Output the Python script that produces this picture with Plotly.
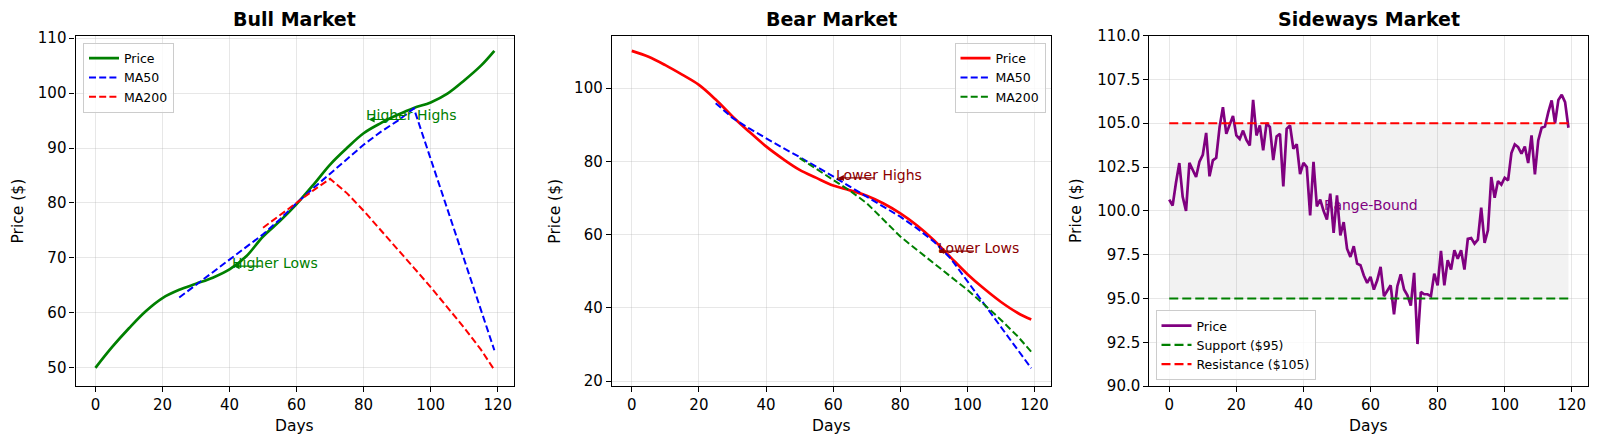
import plotly.graph_objects as go

FONT = "DejaVu Sans"

# ---------------- data ----------------
days_all = list(range(120))

# Bull market (read every 5 days)
bull_days = [0, 5, 10, 15, 20, 25, 30, 35, 40, 45, 50, 55, 60, 65, 70, 75, 80, 85, 90, 95, 100, 105, 110, 115, 119]
bull_price = [50.0, 53.8, 57.2, 60.3, 62.7, 64.2, 65.3, 66.4, 67.9, 70.3, 73.9, 76.7, 79.8, 83.3, 87.0, 90.0,
              92.7, 94.5, 96.0, 97.3, 98.3, 99.9, 102.3, 105.0, 107.7]
bull_ma50_days = [25, 30, 35, 40, 45, 50, 55, 60, 65, 70, 75, 80, 85, 90, 95, 100, 105, 110, 115, 119]
bull_ma50 = [62.8, 65.1, 67.3, 69.6, 71.9, 74.3, 77.0, 80.0, 82.7, 85.3, 88.0, 90.6, 92.9, 94.9, 97.2,
             88.0, 78.9, 69.7, 60.5, 53.2]
bull_ma200_days = [50, 55, 60, 65, 70, 75, 80, 85, 90, 95, 100, 105, 110, 115, 119]
bull_ma200 = [75.5, 77.8, 80.1, 82.3, 84.4, 81.8, 78.6, 75.2, 71.7, 68.2, 64.7, 61.0, 57.3, 53.3, 49.6]

# Bear market
bear_days = [0, 5, 10, 15, 20, 25, 30, 35, 40, 45, 50, 55, 60, 65, 70, 75, 80, 85, 90, 95, 100, 105, 110, 115, 119]
bear_price = [110.2, 108.6, 106.3, 103.7, 100.9, 96.9, 92.3, 88.1, 84.1, 80.7, 77.7, 75.5, 73.4, 72.1, 70.6,
              68.5, 65.8, 62.5, 58.5, 53.8, 49.2, 45.2, 41.6, 38.6, 36.8]
bear_ma50_days = [25, 30, 35, 40, 45, 50, 55, 60, 65, 70, 75, 80, 85, 90, 95, 100, 105, 110, 115, 119]
bear_ma50 = [95.9, 91.9, 89.0, 86.3, 83.7, 81.2, 78.6, 75.9, 73.1, 70.4, 67.7, 64.9, 61.7, 58.1, 53.5,
             47.3, 41.0, 34.7, 28.5, 23.5]
bear_ma200_days = [50, 55, 60, 65, 70, 75, 80, 85, 90, 95, 100, 105, 110, 115, 119]
bear_ma200 = [80.9, 78.0, 74.9, 72.0, 68.6, 64.0, 59.5, 55.8, 52.2, 48.5, 44.9, 40.9, 36.7, 32.2, 28.0]

# Sideways market (daily)
side_price = [100.64, 100.30, 101.60, 102.73, 100.80, 100.00, 102.74, 102.30, 101.93, 102.80,
              103.20, 104.45, 101.97, 102.88, 103.03, 104.78, 105.92, 104.40, 104.87, 105.42,
              104.30, 104.10, 104.58, 104.05, 103.73, 106.33, 104.30, 104.87, 103.45, 105.00,
              104.78, 102.90, 104.25, 104.40, 101.40, 104.68, 104.87, 103.54, 103.80, 102.10,
              102.74, 102.50, 99.74, 102.80, 100.26, 100.64, 100.00, 99.50, 100.98, 98.74,
              100.88, 98.60, 99.36, 97.84, 97.37, 97.98, 96.99, 96.90, 96.31, 95.89,
              96.23, 95.51, 96.04, 96.80, 95.13, 95.43, 95.75, 94.10, 95.70, 96.38,
              95.51, 95.18, 94.60, 96.46, 92.40, 95.37, 95.24, 95.24, 95.13, 96.42,
              95.75, 97.71, 95.75, 97.18, 96.65, 97.75, 97.27, 97.75, 96.65, 98.40,
              98.45, 98.13, 98.36, 100.18, 98.17, 98.89, 101.93, 100.75, 101.70, 101.50,
              101.89, 101.74, 103.30, 103.79, 103.64, 103.26, 103.67, 102.73, 104.30, 102.08,
              104.02, 104.74, 104.81, 105.63, 106.30, 105.00, 106.33, 106.62, 106.20, 104.74]
support_level = 95
resistance_level = 105

titles = ["Bull Market", "Bear Market", "Sideways Market"]
x_ticks = [0, 20, 40, 60, 80, 100, 120]
bull_yticks = [50, 60, 70, 80, 90, 100, 110]
bear_yticks = [20, 40, 60, 80, 100]
side_yticks = [90.0, 92.5, 95.0, 97.5, 100.0, 102.5, 105.0, 107.5, 110.0]

# annotation anchors (text position, arrow tail, arrow head)
bull_notes = [("Higher Lows", (40.2, 69.1), (50.0, 68.5), (41.2, 68.5)),
              ("Higher Highs", (80.2, 96.0), (92.0, 95.2), (81.5, 95.2))]
bear_notes = [("Lower Highs", (60.1, 76.4), (72.8, 75.5), (61.4, 75.5)),
              ("Lower Lows", (90.5, 56.3), (102.4, 55.5), (91.3, 55.5))]
side_note = ("Range-Bound", (60, 100.35))

# ---------------- styling ----------------
W, H = 1600, 446
GREEN, BLUE, RED, PURPLE, DARKRED = "#008000", "#0000ff", "#ff0000", "#800080", "#8b0000"
panel_px = [(75.5, 514.3), (611.8, 1051.2), (1149.3, 1588.4)]
y_top, y_bot = 35.6, 386.1
ydom = [1 - y_bot / H, 1 - y_top / H]
xdoms = [[a / W, b / W] for a, b in panel_px]

fig = go.Figure()


def line(x, y, name, color, width, dash=None, axis=1, legend="legend", shape="linear", show=True):
    fig.add_trace(go.Scatter(
        x=x, y=y, mode="lines", name=name,
        line=dict(color=color, width=width, dash=dash, shape=shape),
        xaxis="x" if axis == 1 else f"x{axis}", yaxis="y" if axis == 1 else f"y{axis}",
        legend=legend, showlegend=show, hoverinfo="skip"))


MA_DASH = "7px,3.2px"
# Bull
line(bull_days, bull_price, "Price", GREEN, 2.7, axis=1, legend="legend", shape="spline")
line(bull_ma50_days, bull_ma50, "MA50", BLUE, 2.0, MA_DASH, axis=1, legend="legend")
line(bull_ma200_days, bull_ma200, "MA200", RED, 2.0, MA_DASH, axis=1, legend="legend")
# Bear
line(bear_days, bear_price, "Price", RED, 2.7, axis=2, legend="legend2", shape="spline")
line(bear_ma50_days, bear_ma50, "MA50", BLUE, 2.0, MA_DASH, axis=2, legend="legend2")
line(bear_ma200_days, bear_ma200, "MA200", GREEN, 2.0, MA_DASH, axis=2, legend="legend2")
# Sideways: shaded range
fig.add_trace(go.Scatter(x=days_all, y=[support_level] * len(days_all), mode="lines",
                         line=dict(width=0, color="rgba(0,0,0,0)"), xaxis="x3", yaxis="y3",
                         showlegend=False, hoverinfo="skip"))
fig.add_trace(go.Scatter(x=days_all, y=[resistance_level] * len(days_all), mode="lines",
                         line=dict(width=0, color="rgba(0,0,0,0)"), fill="tonexty",
                         fillcolor="rgba(128,128,128,0.1)", xaxis="x3", yaxis="y3",
                         showlegend=False, hoverinfo="skip"))
line(days_all, side_price, "Price", PURPLE, 2.7, axis=3, legend="legend3")
line(days_all, [support_level] * len(days_all), f"Support (${support_level})", GREEN, 2.2, "9px,4px",
     axis=3, legend="legend3")
line(days_all, [resistance_level] * len(days_all), f"Resistance (${resistance_level})", RED, 2.2, "9px,4px",
     axis=3, legend="legend3")

axis_common = dict(
    showline=True, linecolor="black", linewidth=1.1, mirror=True,
    ticks="outside", ticklen=5, tickwidth=1.1, tickcolor="black",
    tickfont=dict(family=FONT, size=15, color="black"),
    showgrid=True, gridcolor="rgba(176,176,176,0.3)", gridwidth=1,
    zeroline=False,
)

yranges = [[46.67, 110.47], [18.63, 114.37], [90, 110]]
yticks = [bull_yticks, bear_yticks, side_yticks]
for i in range(3):
    sfx = "" if i == 0 else str(i + 1)
    fig.layout[f"xaxis{sfx}"] = dict(axis_common, domain=xdoms[i], range=[-5.95, 124.95],
                                     tickvals=x_ticks, anchor=f"y{sfx}")
    yd = dict(axis_common, domain=ydom, range=yranges[i], tickvals=yticks[i], anchor=f"x{sfx}")
    if i == 2:
        yd["tickformat"] = ".1f"
    fig.layout[f"yaxis{sfx}"] = yd

annots = []
ylabel_x = [17.6, 554.8, 1076.2]
for i in range(3):
    cx = (xdoms[i][0] + xdoms[i][1]) / 2
    annots.append(dict(text=f"<b>{titles[i]}</b>", x=cx, y=1 - 19.5 / H, xref="paper", yref="paper",
                       showarrow=False, font=dict(family=FONT, size=19, color="black"),
                       xanchor="center", yanchor="middle"))
    annots.append(dict(text="Days", x=cx, y=1 - 426 / H, xref="paper", yref="paper", showarrow=False,
                       font=dict(family=FONT, size=15.5, color="black"), xanchor="center", yanchor="middle"))
    annots.append(dict(text="Price ($)", x=ylabel_x[i] / W, y=(ydom[0] + ydom[1]) / 2, xref="paper",
                       yref="paper", showarrow=False, textangle=-90,
                       font=dict(family=FONT, size=15.5, color="black"), xanchor="center", yanchor="middle"))


def add_notes(notes, axis, color):
    xr = "x" if axis == 1 else f"x{axis}"
    yr = "y" if axis == 1 else f"y{axis}"
    for text, (tx, ty), (ax, ay), (hx, hy) in notes:
        annots.append(dict(text="", x=hx, y=hy, ax=ax, ay=ay, xref=xr, yref=yr, axref=xr, ayref=yr,
                           showarrow=True, arrowhead=2, arrowsize=1, arrowwidth=1.2, arrowcolor=color))
        annots.append(dict(text=text, x=tx, y=ty, xref=xr, yref=yr, showarrow=False,
                           font=dict(family=FONT, size=14, color=color), xanchor="left", yanchor="middle"))


add_notes(bull_notes, 1, GREEN)
add_notes(bear_notes, 2, DARKRED)
annots.append(dict(text=side_note[0], x=side_note[1][0], y=side_note[1][1], xref="x3", yref="y3",
                   showarrow=False, font=dict(family=FONT, size=14, color=PURPLE),
                   xanchor="center", yanchor="middle"))

legend_common = dict(bgcolor="rgba(255,255,255,0.8)", bordercolor="#cccccc", borderwidth=1,
                     font=dict(family=FONT, size=12.5, color="black"), tracegroupgap=0,
                     itemwidth=30, traceorder="normal")

fig.update_layout(
    width=W, height=H,
    margin=dict(l=0, r=0, t=0, b=0, autoexpand=False),
    paper_bgcolor="white", plot_bgcolor="white",
    font=dict(family=FONT, color="black"),
    annotations=annots,
    legend=dict(legend_common, x=83 / W, y=1 - 42.5 / H, xanchor="left", yanchor="top"),
    legend2=dict(legend_common, x=1045.5 / W, y=1 - 42.5 / H, xanchor="right", yanchor="top"),
    legend3=dict(legend_common, x=1155.5 / W, y=1 - 380 / H, xanchor="left", yanchor="bottom"),
)

fig.write_html("out.html")
